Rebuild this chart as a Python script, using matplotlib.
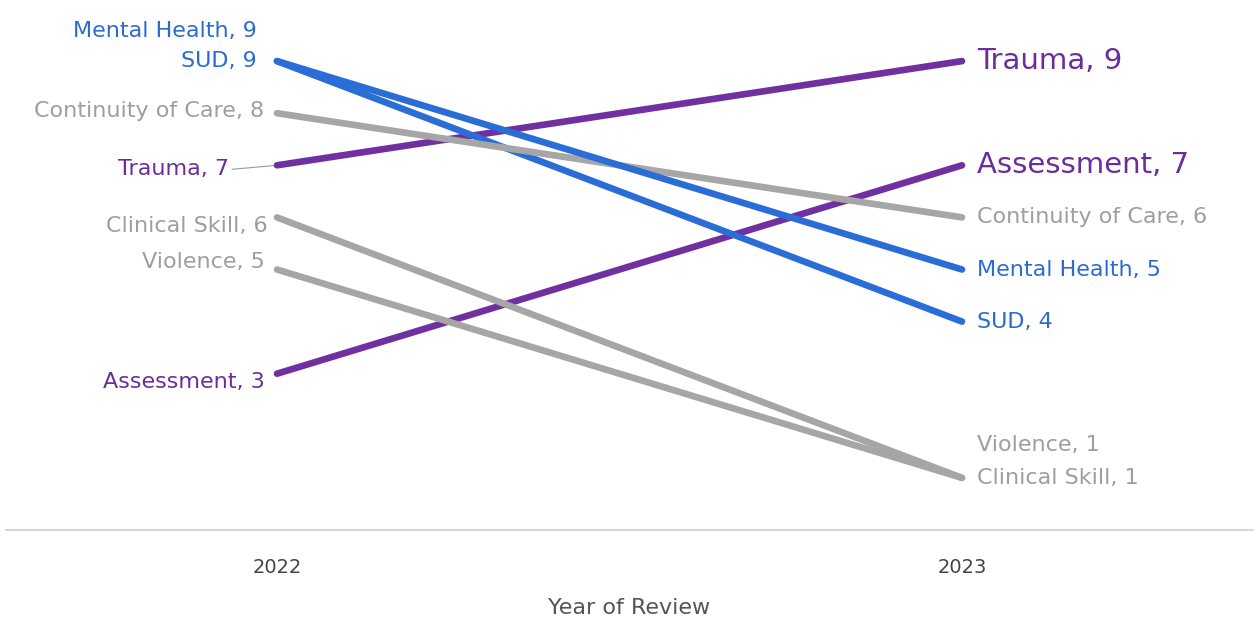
import matplotlib
matplotlib.use("Agg")
import matplotlib.pyplot as plt

# Data
years = [2022, 2023]
topics = ["Assessment", "Trauma", "SUD", "Clinical Skill", "Violence",
          "Continuity of Care", "Mental Health"]
counts_2022 = [3, 7, 9, 6, 5, 8, 9]
counts_2023 = [7, 9, 4, 1, 1, 6, 5]

BLUE = "#2a6dd6"
PURPLE = "#7030a0"
GRAY = "#a6a6a6"
colors = {"Assessment": PURPLE, "Trauma": PURPLE, "SUD": BLUE,
          "Mental Health": BLUE, "Clinical Skill": GRAY, "Violence": GRAY,
          "Continuity of Care": GRAY}
text_colors = {PURPLE: "#6b2d9c", BLUE: "#2b6ccf", GRAY: "#9e9e9e"}

# label placement (pixel offsets from the point)
left_offsets = {"Assessment": (-12, -8), "Trauma": (-48, -4), "SUD": (-20, 0),
                "Clinical Skill": (-9, -9), "Violence": (-12, 8),
                "Continuity of Care": (-13, 2), "Mental Health": (-20, 30)}
right_offsets = {"Violence": (15, 33)}
emphasized = {"Trauma", "Assessment"}

plt.rcParams["font.family"] = ["DejaVu Sans"]

fig = plt.figure(figsize=(12.59, 6.34), dpi=100)
ax = fig.add_axes([6 / 1259, 104 / 634, 1247 / 1259, 521 / 634])
ax.set_xlim(2022 - 271 / 685, 2023 + 291 / 685)
ax.set_ylim(0, 10)

for name, a, b in zip(topics, counts_2022, counts_2023):
    c = colors[name]
    ax.plot(years, [a, b], color=c, lw=4.8, solid_capstyle="round", zorder=2)
    tc = text_colors[c]
    dx, dy = left_offsets[name]
    ax.annotate(f"{name}, {a}", xy=(years[0], a), xytext=(dx, dy),
                textcoords="offset pixels", ha="right", va="center",
                fontsize=16, color=tc, zorder=3)
    if name == "Trauma":
        ax.annotate("", xy=(years[0], a), xytext=(dx + 3, dy),
                    textcoords="offset pixels",
                    arrowprops=dict(arrowstyle="-", color="#999999", lw=0.8,
                                    shrinkA=0, shrinkB=0), zorder=1)
    rdx, rdy = right_offsets.get(name, (15, 0))
    big = name in emphasized
    ax.annotate(f"{name}, {b}", xy=(years[1], b), xytext=(rdx, rdy),
                textcoords="offset pixels", ha="left", va="center",
                fontsize=21 if big else 16, color=tc, zorder=3)

for s in ["top", "right", "left"]:
    ax.spines[s].set_visible(False)
ax.spines["bottom"].set_color("#d0d0d0")
ax.spines["bottom"].set_linewidth(1.2)
ax.set_yticks([])
ax.set_xticks(years)
ax.set_xticklabels([str(y) for y in years])
ax.tick_params(axis="x", length=0, pad=20, labelsize=14, labelcolor="#444444")
ax.set_xlabel("Year of Review", fontsize=16, color="#555555", labelpad=15)

fig.savefig("out.png", dpi=100, facecolor="white")
